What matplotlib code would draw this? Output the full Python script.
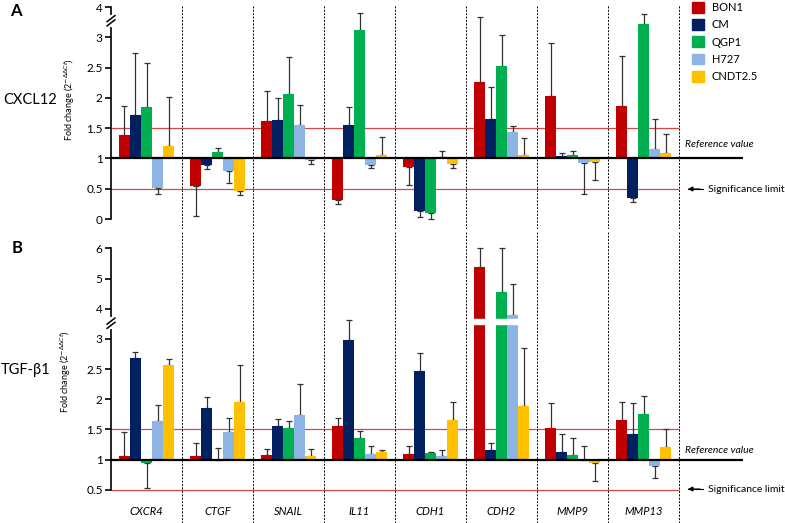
import matplotlib
matplotlib.use('Agg')
import matplotlib.pyplot as plt
from matplotlib.patches import Patch
import numpy as np

plt.rcParams['font.family'] = ['Lato', 'DejaVu Sans']

genes = ['CXCR4', 'CTGF', 'SNAIL', 'IL11', 'CDH1', 'CDH2', 'MMP9', 'MMP13']
cell_lines = ['BON1', 'CM', 'QGP1', 'H727', 'CNDT2.5']
colors = ['#c00000', '#002060', '#00b050', '#8eb4e3', '#ffc000']

# Panel A (CXCL12): fold change, and where each error bar ends
a_bon1 = [1.38, 0.54, 1.62, 0.31, 0.86, 2.27, 2.04, 1.86]
a_bon1_tip = [1.87, 0.05, 2.11, 0.25, 0.57, 3.69, 2.90, 2.69]
a_cm = [1.72, 0.90, 1.64, 1.55, 0.13, 1.66, 1.04, 0.34]
a_cm_tip = [2.74, 0.83, 2.00, 1.85, 0.04, 2.18, 1.09, 0.28]
a_qgp1 = [1.85, 1.11, 2.06, 3.25, 0.10, 2.53, 1.05, 3.45]
a_qgp1_tip = [2.58, 1.17, 2.67, 3.82, 0.00, 3.08, 1.13, 3.78]
a_h727 = [0.51, 0.80, 1.55, 0.90, 1.03, 1.43, 0.93, 1.16]
a_h727_tip = [0.42, 0.60, 1.88, 0.85, 1.12, 1.53, 0.42, 1.66]
a_cndt = [1.20, 0.47, 0.98, 1.05, 0.91, 1.05, 0.94, 1.09]
a_cndt_tip = [2.01, 0.40, 0.91, 1.35, 0.85, 1.34, 0.65, 1.40]

# Panel B (TGF-beta1)
b_bon1 = [1.06, 1.06, 1.07, 1.56, 1.09, 5.39, 1.53, 1.66]
b_bon1_tip = [1.46, 1.27, 1.17, 1.69, 1.22, 6.00, 1.94, 1.96]
b_cm = [2.69, 1.85, 1.56, 2.98, 2.47, 1.16, 1.12, 1.43]
b_cm_tip = [2.78, 2.03, 1.68, 3.62, 2.77, 1.28, 1.43, 1.93]
b_qgp1 = [0.95, 1.00, 1.53, 1.35, 1.10, 4.57, 1.07, 1.75]
b_qgp1_tip = [0.53, 1.19, 1.64, 1.47, 1.13, 6.00, 1.36, 2.06]
b_h727 = [1.64, 1.45, 1.74, 1.09, 1.06, 3.78, 1.00, 0.90]
b_h727_tip = [1.91, 1.69, 2.26, 1.22, 1.16, 4.81, 1.22, 0.69]
b_cndt = [2.57, 1.96, 1.06, 1.12, 1.66, 1.88, 0.95, 1.21]
b_cndt_tip = [2.66, 2.57, 1.17, 1.15, 1.96, 2.85, 0.65, 1.50]

a_vals = [a_bon1, a_cm, a_qgp1, a_h727, a_cndt]
a_tips = [a_bon1_tip, a_cm_tip, a_qgp1_tip, a_h727_tip, a_cndt_tip]
b_vals = [b_bon1, b_cm, b_qgp1, b_h727, b_cndt]
b_tips = [b_bon1_tip, b_cm_tip, b_qgp1_tip, b_h727_tip, b_cndt_tip]


# axis is squeezed above 3 (broken axis)
def fwd(v):
    v = np.asarray(v, dtype=float)
    return np.where(v <= 3, v, 3 + (v - 3) * 0.5)


def inv(t):
    t = np.asarray(t, dtype=float)
    return np.where(t <= 3, t, 3 + (t - 3) * 2)


W, H = 785, 523
fig = plt.figure(figsize=(7.85, 5.23), dpi=100)
axA = fig.add_axes([111 / W, 1 - 229 / H, 632 / W, 224 / H])
axB = fig.add_axes([111 / W, 0, 632 / W, 291 / H])

x = np.arange(len(genes)) + 0.5
bw = 0.155


def draw_panel(ax, vals, tips, ylo, yhi, ticks, brk):
    ax.set_yscale('function', functions=(fwd, inv))
    for j in range(len(cell_lines)):
        v = np.array(vals[j])
        tip = np.array(tips[j])
        xs = x + (j - 2) * bw
        ax.bar(xs, v - 1, bottom=1, width=bw, color=colors[j], zorder=2)
        lower = np.clip(v - tip, 0, None)
        upper = np.clip(tip - v, 0, None)
        ax.errorbar(xs, v, yerr=[lower, upper], fmt='none', ecolor='#333333',
                    elinewidth=0.9, capsize=2.2, capthick=0.9, zorder=1)
    ax.hlines([0.5, 1.5], 0, 8, color='#d04848', lw=0.9, zorder=0.5)
    ax.hlines(1, 0, 8.9, color='black', lw=1.6, zorder=4)
    for g in range(1, 9):
        ax.axvline(g, color='black', lw=0.7, ls=(0, (2, 1.5)), zorder=0.5)
    ax.set_xlim(0, 8.9)
    ax.set_ylim(ylo, yhi)
    ax.set_yticks(ticks)
    ax.set_yticklabels(['%g' % t for t in ticks])
    ax.set_xticks([])
    for s in ['top', 'right', 'bottom']:
        ax.spines[s].set_visible(False)
    ax.spines['left'].set_linewidth(1.2)
    ax.spines['left'].set_bounds(ticks[0], ticks[-1])
    ax.tick_params(axis='y', length=4, width=1.2, labelsize=8.5, pad=2)
    ax.minorticks_off()
    # break marks on the axis
    ax.plot([0, 0], [brk - 0.14, brk + 0.14], color='white', lw=3,
            clip_on=False, zorder=5)
    for d in (-0.07, 0.07):
        ax.plot([-0.055, 0.055], [brk + d - 0.1, brk + d + 0.1], color='black',
                lw=1.1, clip_on=False, zorder=6)


draw_panel(axA, a_vals, a_tips, -0.165, 4.07, [0, 0.5, 1, 1.5, 2, 2.5, 3, 4], 3.55)
draw_panel(axB, b_vals, b_tips, -0.053, 6.546, [0.5, 1, 1.5, 2, 2.5, 3, 4, 5, 6], 3.52)

# white gap cutting the tall CDH2 bars
axB.fill_between([5.07, 5.93], 3.48, 3.67, color='white', zorder=3)

for i, g in enumerate(genes):
    axB.text(x[i], 0.13, g, ha='center', va='center', fontsize=8, style='italic')

ylab = 'Fold change (2$^{-\\Delta\\Delta Ct}$)'
fig.text(70 / W, 1 - 100 / H, ylab, rotation=90, ha='center', va='center', fontsize=6.5)
fig.text(66 / W, 1 - 372 / H, ylab, rotation=90, ha='center', va='center', fontsize=6.5)

fig.text(10 / W, 1 - 11 / H, 'A', fontsize=12, fontweight='bold', va='center')
fig.text(12 / W, 1 - 248 / H, 'B', fontsize=12, fontweight='bold', va='center')
fig.text(30 / W, 1 - 100 / H, 'CXCL12', fontsize=10.5, ha='center', va='center')
fig.text(26 / W, 1 - 370 / H, 'TGF-β1', fontsize=10.5, ha='center', va='center')

for yr, ys in [(145, 189), (450, 489)]:
    fig.text(685 / W, 1 - yr / H, 'Reference value', fontsize=7.5, style='italic', va='center')
    fig.text(708 / W, 1 - ys / H, 'Significance limit', fontsize=7.5, va='center')
    fig.add_artist(plt.Line2D([688 / W, 703 / W], [1 - ys / H, 1 - ys / H], color='black', lw=0.8))
    plt.annotate('', xy=(685 / W, 1 - ys / H), xytext=(703 / W, 1 - ys / H),
                 xycoords='figure fraction',
                 arrowprops=dict(arrowstyle='-|>', color='black', lw=0.8, mutation_scale=7))

handles = [Patch(color=c) for c in colors]
fig.legend(handles, cell_lines, loc='upper left', bbox_to_anchor=(692 / W, 1 - 2 / H),
           frameon=False, fontsize=8, handlelength=1.1, handleheight=1.1,
           handletextpad=0.7, labelspacing=0.55, borderpad=0, borderaxespad=0)

fig.savefig('out.png', dpi=100)
